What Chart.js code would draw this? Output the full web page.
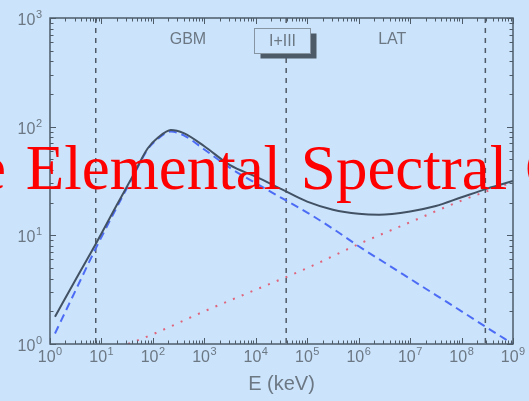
<!DOCTYPE html>
<html>
<head>
<meta charset="utf-8">
<script src="https://cdn.jsdelivr.net/npm/chart.js@4"></script>
<style>
  html, body { margin: 0; padding: 0; background: #cbe4fb; overflow: hidden; }
  #wrap { position: relative; width: 529px; height: 401px; }
  canvas { display: block; }
  #banner {
    position: absolute; left: -22px; top: 137px;
    font-family: "Liberation Serif", "Times New Roman", serif;
    font-size: 63px; line-height: 63px; color: #ff0000;
    white-space: pre; word-spacing: 4px; pointer-events: none;
  }
  #banner .tail { margin-left: -2px; }
</style>
</head>
<body>
<div id="wrap">
  <canvas id="c" width="529" height="401"></canvas>
  <div id="banner">e Elemental Spectral <span class="tail">C</span></div>
</div>
<script>
// Total fitted spectrum (Band + extra power law), E^2 N(E) vs energy
const totalEnergyKeV = [1.25, 3.16, 7.94, 20, 40, 79, 126, 224, 398, 1e3, 3.16e3, 1e4, 3.16e4, 1e5, 3.16e5, 1e6, 2.5e6, 1e7, 3.16e7, 1e8, 3.16e8, 1e9];
const totalFlux      = [1.78, 3.92, 8.5, 19.1, 34.7, 63, 79.4, 93.3, 87.1, 66, 44.2, 34.7, 26.6, 20.4, 17.2, 15.8, 15.5, 16.6, 18.6, 22.4, 26.9, 31.6];

// Band function component
const bandEnergyKeV  = [1.25, 3.16, 7.94, 20, 40, 79, 126, 224, 398, 1e3, 3.16e3, 1e4, 3.16e4, 1e5, 3.16e5, 1e6, 3.16e6, 1e7, 3.16e7, 1e8, 3.16e8, 1e9];
const bandFlux       = [1.25, 3.13, 7.76, 18.2, 33.9, 61.7, 77.6, 90.2, 83.2, 61.7, 41.7, 30.2, 22.1, 16.2, 11.5, 7.94, 5.62, 3.98, 2.82, 2.0, 1.41, 1.0];

// Extra power-law component
const plEnergyKeV    = [33, 100, 1e3, 1e4, 1e5, 1e6, 1e7, 1e8, 1e9];
const plFlux         = [1.0, 1.23, 2.0, 3.16, 5.0, 8.3, 13.2, 20.9, 30.9];

// Interval boundaries (keV) and instrument labels
const boundaryKeV    = [7.75, 3.9e4, 2.9e8];
const instrumentText = ['GBM', 'LAT'];
const instrumentAtKeV = [480, 4.5e6];
const intervalText   = 'I+III';
const intervalAtKeV  = 3.2e4;

// Axis tick labels: base and exponent for each decade
const xTickExponents = [0, 1, 2, 3, 4, 5, 6, 7, 8, 9];
const yTickExponents = [0, 1, 2, 3];
const xTitle = 'E (keV)';

const BG = '#cbe4fb';
const AXIS = '#4e5c6a';
const LABEL = '#6c7784';
const SANS = '"Liberation Sans", Arial, sans-serif';

function pairs(xs, ys) { return xs.map((v, i) => ({ x: v, y: ys[i] })); }

function decadeTicks(min, max) {
  const out = [];
  const e0 = Math.round(Math.log10(min)), e1 = Math.round(Math.log10(max));
  for (let e = e0; e <= e1; e++) {
    for (let m = 1; m <= 9; m++) {
      const v = m * Math.pow(10, e);
      if (v >= min * 0.999999 && v <= max * 1.000001) out.push({ value: v });
    }
  }
  return out;
}

function isDecade(v) {
  const e = Math.log10(v);
  return Math.abs(e - Math.round(e)) < 1e-6;
}

// "10" with a raised exponent; align is 'center' or 'right' at px
function drawPower(ctx, exp, px, baseline, align) {
  ctx.font = '16px ' + SANS;
  const wBase = ctx.measureText('10').width;
  ctx.font = '11px ' + SANS;
  const wExp = ctx.measureText(String(exp)).width;
  const total = wBase + wExp + 0.5;
  const left = align === 'center' ? px - total / 2 : px - total;
  ctx.textAlign = 'left';
  ctx.textBaseline = 'alphabetic';
  ctx.font = '16px ' + SANS;
  ctx.fillText('10', left, baseline);
  ctx.font = '11px ' + SANS;
  ctx.fillText(String(exp), left + wBase + 0.5, baseline - 7);
}

const framePlugin = {
  id: 'frame',
  beforeDatasetsDraw(chart) {
    const { ctx, chartArea: a, scales: { x } } = chart;
    ctx.save();
    ctx.beginPath();
    ctx.rect(a.left, a.top, a.right - a.left, a.bottom - a.top);
    ctx.clip();
    ctx.strokeStyle = '#505a66';
    ctx.lineWidth = 1.5;
    ctx.setLineDash([5, 5]);
    boundaryKeV.forEach(e => {
      const px = x.getPixelForValue(e);
      ctx.beginPath();
      ctx.moveTo(px, a.top);
      ctx.lineTo(px, a.bottom);
      ctx.stroke();
    });
    ctx.restore();
  },
  afterDatasetsDraw(chart) {
    const { ctx, chartArea: a, scales: { x, y } } = chart;
    ctx.save();

    // plot frame
    ctx.strokeStyle = AXIS;
    ctx.lineWidth = 1.5;
    ctx.strokeRect(a.left, a.top, a.right - a.left, a.bottom - a.top);

    // inward tick marks on all four sides
    ctx.lineWidth = 1;
    x.ticks.forEach(t => {
      const px = Math.round(x.getPixelForValue(t.value)) + 0.5;
      const len = isDecade(t.value) ? 6 : 3.5;
      ctx.beginPath();
      ctx.moveTo(px, a.bottom); ctx.lineTo(px, a.bottom - len);
      ctx.moveTo(px, a.top); ctx.lineTo(px, a.top + len);
      ctx.stroke();
    });
    y.ticks.forEach(t => {
      const py = Math.round(y.getPixelForValue(t.value)) + 0.5;
      const len = isDecade(t.value) ? 6 : 3.5;
      ctx.beginPath();
      ctx.moveTo(a.left, py); ctx.lineTo(a.left + len, py);
      ctx.moveTo(a.right, py); ctx.lineTo(a.right - len, py);
      ctx.stroke();
    });

    // decade tick labels
    ctx.fillStyle = LABEL;
    xTickExponents.forEach(e => {
      drawPower(ctx, e, x.getPixelForValue(Math.pow(10, e)), a.bottom + 18, 'center');
    });
    yTickExponents.forEach(e => {
      drawPower(ctx, e, a.left - 8, y.getPixelForValue(Math.pow(10, e)) + 7, 'right');
    });

    // instrument labels
    ctx.fillStyle = LABEL;
    ctx.font = '16px ' + SANS;
    ctx.textAlign = 'center';
    ctx.textBaseline = 'middle';
    instrumentText.forEach((txt, i) => {
      ctx.fillText(txt, x.getPixelForValue(instrumentAtKeV[i]), a.top + 22);
    });

    // interval tag with drop shadow
    const cx = x.getPixelForValue(intervalAtKeV);
    const bw = 56, bh = 25;
    const bx = Math.round(cx - bw / 2) + 0.5, by = a.top + 10.5;
    ctx.fillStyle = '#4d5b69';
    ctx.fillRect(bx + 6, by + 5, bw, bh);
    ctx.fillStyle = BG;
    ctx.fillRect(bx, by, bw, bh);
    ctx.strokeStyle = '#8795a3';
    ctx.lineWidth = 1;
    ctx.strokeRect(bx, by, bw, bh);
    ctx.fillStyle = LABEL;
    ctx.fillText(intervalText, bx + bw / 2, by + bh / 2 + 1);

    ctx.restore();
  }
};

new Chart(document.getElementById('c'), {
  type: 'line',
  data: {
    datasets: [
      {
        label: 'Total',
        data: pairs(totalEnergyKeV, totalFlux),
        borderColor: '#425264',
        borderWidth: 2,
        pointRadius: 0,
        cubicInterpolationMode: 'monotone',
        fill: false
      },
      {
        label: 'Band',
        data: pairs(bandEnergyKeV, bandFlux),
        borderColor: '#4d6cf5',
        borderWidth: 2,
        borderDash: [8, 5],
        pointRadius: 0,
        cubicInterpolationMode: 'monotone',
        fill: false
      },
      {
        label: 'Power law',
        data: pairs(plEnergyKeV, plFlux),
        borderColor: '#e0647c',
        borderWidth: 2,
        borderDash: [2, 7.5],
        pointRadius: 0,
        cubicInterpolationMode: 'monotone',
        fill: false
      }
    ]
  },
  options: {
    responsive: false,
    animation: false,
    devicePixelRatio: 1,
    layout: { padding: { top: 18, right: 16, left: 0, bottom: 0 } },
    plugins: { legend: { display: false }, tooltip: { enabled: false } },
    scales: {
      x: {
        type: 'logarithmic',
        position: 'bottom',
        min: 1, max: 1e9,
        grid: { display: false, drawTicks: false },
        border: { display: false },
        afterBuildTicks: s => { s.ticks = decadeTicks(1, 1e9); },
        afterFit: s => { s.height = 57; },
        ticks: { display: false, autoSkip: false },
        title: {
          display: true, text: xTitle, color: LABEL,
          font: { family: SANS, size: 20 },
          padding: { top: 0, bottom: 5 }
        }
      },
      y: {
        type: 'logarithmic',
        position: 'left',
        min: 1, max: 1e3,
        grid: { display: false, drawTicks: false },
        border: { display: false },
        afterBuildTicks: s => { s.ticks = decadeTicks(1, 1e3); },
        afterFit: s => { s.width = 50; },
        ticks: { display: false, autoSkip: false }
      }
    }
  },
  plugins: [framePlugin]
});
</script>
</body>
</html>
